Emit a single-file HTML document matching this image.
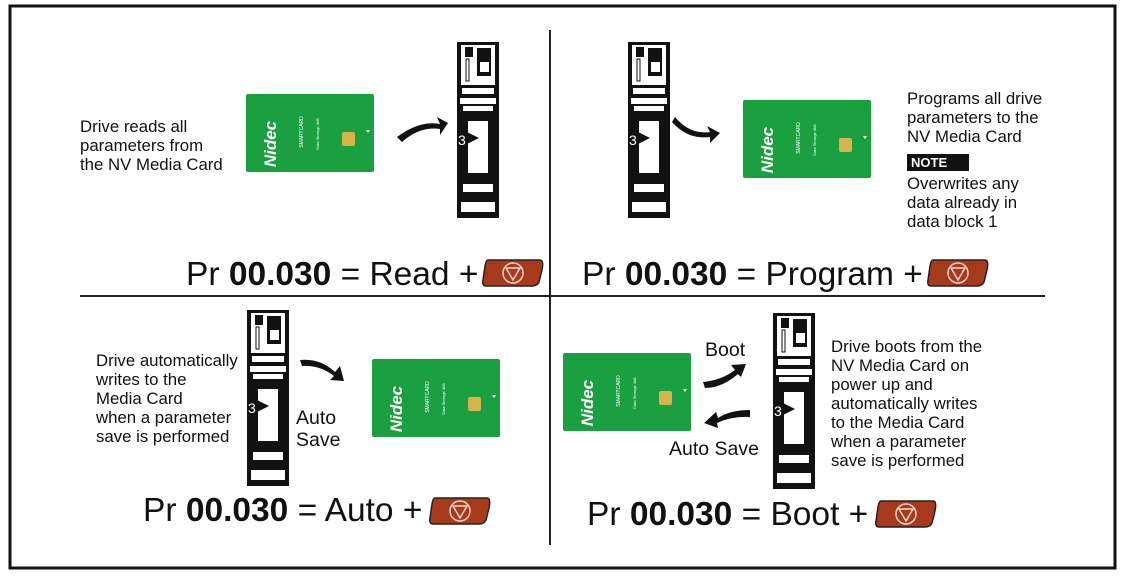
<!DOCTYPE html>
<html><head><style>
body{margin:0;background:#fff;width:1123px;height:577px;overflow:hidden;font-family:"Liberation Sans",sans-serif;}
</style></head><body>
<svg width="1123" height="577" viewBox="0 0 1123 577" xmlns="http://www.w3.org/2000/svg" font-family="Liberation Sans, sans-serif">
<defs>
<g id="drv">
<rect x="0" y="0" width="42" height="176" fill="#111"/>
<rect x="4" y="3" width="34" height="40" fill="#fff"/>
<rect x="8" y="5" width="8" height="10" fill="#111"/>
<rect x="20" y="6" width="14" height="28" fill="#111"/><rect x="23" y="20" width="9" height="10" fill="#fff"/>
<rect x="9" y="17" width="3" height="22" fill="#fff" stroke="#111"/>
<rect x="5" y="46" width="32" height="6" fill="#fff"/>
<rect x="3" y="56" width="36" height="6" fill="#fff"/>
<rect x="6" y="64" width="30" height="5" fill="#fff"/>
<rect x="10" y="78" width="22" height="54" fill="#fff" stroke="#111" stroke-width="2"/>
<polygon points="10,90 22,96 10,102" fill="#111"/>
<text x="1" y="103" font-size="14" fill="#fff">3</text>
<rect x="6" y="142" width="30" height="8" fill="#fff"/>
<rect x="4" y="160" width="34" height="10" fill="#fff"/>
</g>
<g id="card">
<rect x="0" y="0" width="128" height="78" rx="2" fill="#1aa040"/>
<text x="30" y="50" font-size="17" font-weight="bold" font-style="italic" fill="#fff" transform="rotate(-90 30 50)" text-anchor="middle">Nidec</text>
<text x="57" y="38" font-size="5" fill="#fff" transform="rotate(-90 57 38)" text-anchor="middle">SMARTCARD</text>
<text x="73" y="40" font-size="4" fill="#fff" transform="rotate(-90 73 40)" text-anchor="middle">Data Storage 4kB</text>
<rect x="96" y="38" width="13" height="14" rx="2" fill="#d8b24a"/>
<polygon points="120,36 124,36 122,39" fill="#fff"/>
</g>
<g id="btn">
<path d="M6,2 H58 Q62,2 60,12 L57,24 Q55,28 50,28 H4 Q0,28 1,22 L3,8 Q4,2 6,2Z" fill="#a83a1c" stroke="#222" stroke-width="1.5"/>
<circle cx="31" cy="15" r="10" fill="none" stroke="#f3d4c8" stroke-width="1.5"/>
<polygon points="24,10 38,10 31,22" fill="none" stroke="#f3d4c8" stroke-width="1.5"/>
</g>
</defs>
<rect x="10" y="6" width="1105" height="562" fill="none" stroke="#111" stroke-width="3"/>
<line x1="550" y1="30" x2="550" y2="545" stroke="#222" stroke-width="2"/>
<line x1="80" y1="296" x2="1045" y2="296" stroke="#222" stroke-width="2"/>

<!-- Q1 -->
<text font-size="16.8" fill="#111"><tspan x="80" y="132">Drive reads all</tspan><tspan x="80" y="151">parameters from</tspan><tspan x="80" y="170">the NV Media Card</tspan></text>
<use href="#card" x="246" y="94"/>
<use href="#drv" x="457" y="42"/>
<path d="M397,137 Q420,120 440,124 L437,117 L448,123 L440,135 L440,129 Q420,126 402,142Z" fill="#111"/>
<text x="186" y="285" font-size="33.5" fill="#111">Pr <tspan font-weight="bold">00.030</tspan> = Read +</text>
<use href="#btn" x="482" y="258"/>

<!-- Q2 -->
<use href="#drv" x="628" y="42"/>
<path d="M675,117 Q690,135 710,132 L707,126 L720,133 L710,143 L710,137 Q688,140 672,122Z" fill="#111"/>
<use href="#card" x="743" y="100"/>
<text font-size="16.8" fill="#111"><tspan x="907" y="104">Programs all drive</tspan><tspan x="907" y="123">parameters to the</tspan><tspan x="907" y="142">NV Media Card</tspan></text>
<rect x="907" y="154" width="62" height="17" fill="#111"/>
<text x="911" y="167" font-size="13" font-weight="bold" fill="#fff">NOTE</text>
<text font-size="16.8" fill="#111"><tspan x="907" y="189">Overwrites any</tspan><tspan x="907" y="208">data already in</tspan><tspan x="907" y="227">data block 1</tspan></text>
<text x="582" y="285" font-size="33.5" fill="#111">Pr <tspan font-weight="bold">00.030</tspan> = Program +</text>
<use href="#btn" x="927" y="258"/>

<!-- Q3 -->
<text font-size="16.8" fill="#111"><tspan x="96" y="366">Drive automatically</tspan><tspan x="96" y="385">writes to the</tspan><tspan x="96" y="404">Media Card</tspan><tspan x="96" y="423">when a parameter</tspan><tspan x="96" y="442">save is performed</tspan></text>
<use href="#drv" x="247" y="310"/>
<path d="M300,360 Q320,358 335,372 L340,366 L344,381 L330,380 L334,376 Q320,365 302,366Z" fill="#111"/>
<use href="#card" x="372" y="359"/>
<text font-size="19.5" fill="#111"><tspan x="296" y="424">Auto</tspan><tspan x="296" y="446">Save</tspan></text>
<text x="143" y="521" font-size="33.5" fill="#111">Pr <tspan font-weight="bold">00.030</tspan> = Auto +</text>
<use href="#btn" x="429" y="496"/>

<!-- Q4 -->
<use href="#card" x="563" y="353"/>
<text x="705" y="356" font-size="19.5" fill="#111">Boot</text>
<path d="M703,382 Q722,380 735,370 L731,365 L746,364 L741,377 L738,374 Q722,388 705,388Z" fill="#111"/>
<path d="M750,410 Q730,410 718,418 L716,412 L704,423 L718,428 L717,423 Q732,416 750,417Z" fill="#111"/>
<text x="669" y="455" font-size="19.5" fill="#111">Auto Save</text>
<use href="#drv" x="773" y="313"/>
<text font-size="16.8" fill="#111"><tspan x="831" y="352">Drive boots from the</tspan><tspan x="831" y="371">NV Media Card on</tspan><tspan x="831" y="390">power up and</tspan><tspan x="831" y="409">automatically writes</tspan><tspan x="831" y="428">to the Media Card</tspan><tspan x="831" y="447">when a parameter</tspan><tspan x="831" y="466">save is performed</tspan></text>
<text x="587" y="525" font-size="33.5" fill="#111">Pr <tspan font-weight="bold">00.030</tspan> = Boot +</text>
<use href="#btn" x="875" y="499"/>
</svg>
</body></html>
